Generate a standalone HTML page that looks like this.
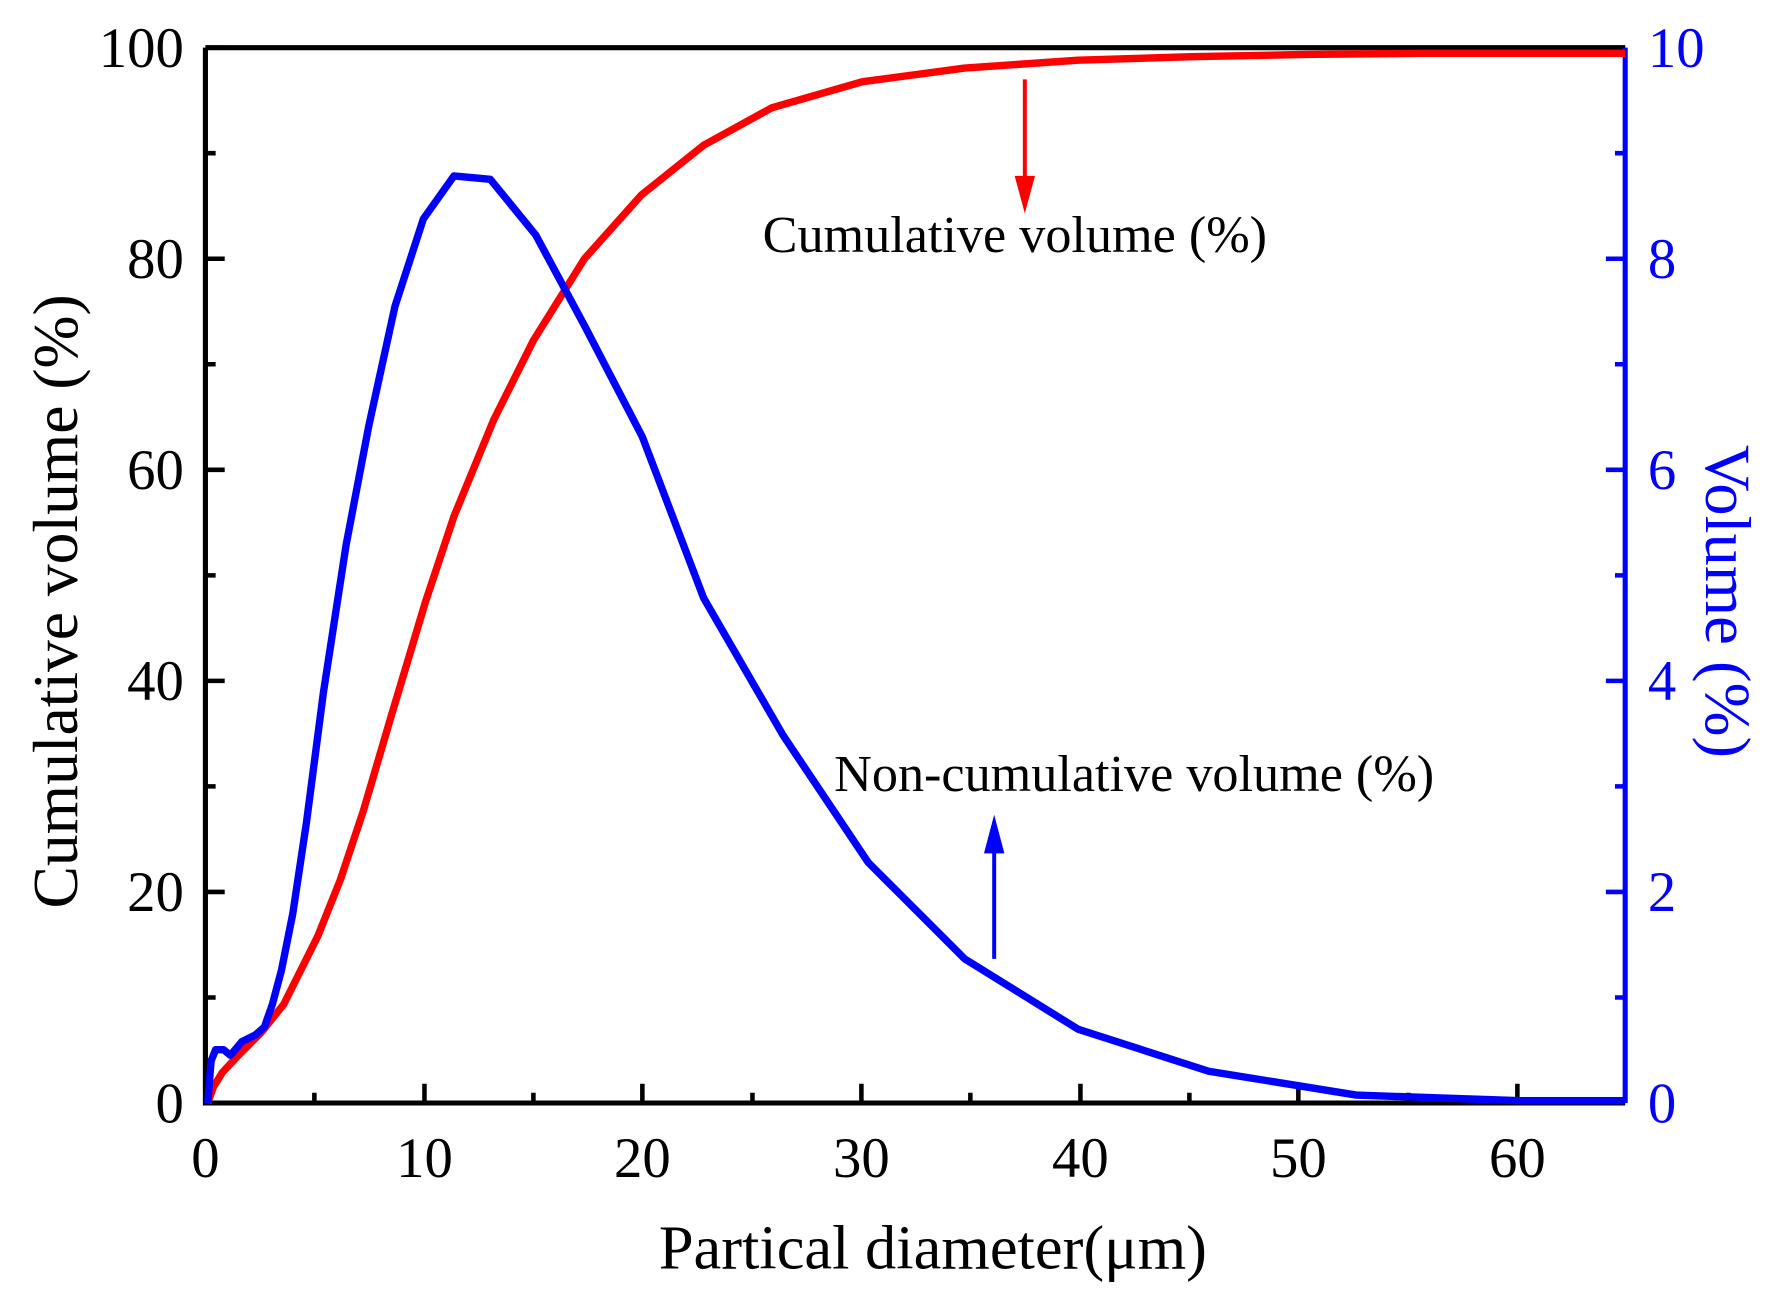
<!DOCTYPE html>
<html><head><meta charset="utf-8"><style>html,body{margin:0;padding:0;background:#fff}svg{display:block}</style></head>
<body>
<svg width="1775" height="1305" viewBox="0 0 1564 1150" preserveAspectRatio="none" xmlns="http://www.w3.org/2000/svg" font-family="Liberation Serif, serif">
<rect width="1564" height="1150" fill="#fff"/>
<g stroke="#000" stroke-width="4">
<path d="M181,972v-17M374,972v-17M566,972v-17M759,972v-17M952,972v-17M1144,972v-17M1337,972v-17"/>
<path d="M277,972v-9M470,972v-9M663,972v-9M855,972v-9M1048,972v-9M1241,972v-9"/>
<path d="M181,42h17M181,228h17M181,414h17M181,600h17M181,786h17"/>
<path d="M181,135h9M181,321h9M181,507h9M181,693h9M181,879h9"/>
</g>
<g stroke="#00f" stroke-width="4">
<path d="M1432,42h-17M1432,228h-17M1432,414h-17M1432,600h-17M1432,786h-17"/>
<path d="M1432,135h-9M1432,321h-9M1432,507h-9M1432,693h-9M1432,879h-9"/>
</g>
<path d="M181,42H1432M181,42V972H1432" stroke="#000" stroke-width="4.5" fill="none"/>
<path d="M1432,42V972" stroke="#00f" stroke-width="4.5"/>
<polyline fill="none" stroke="#f00" stroke-width="6.5" stroke-linejoin="round" points="183,972 188,958 196,945 210,930 230,910 250,885 265,855 280,825 300,775 320,715 345,630 375,530 400,455 435,370 470,300 515,228 565,172 620,128 680,95 760,72 850,60 950,53 1050,50 1150,48 1250,47 1432,47"/>
<polyline fill="none" stroke="#00f" stroke-width="6.5" stroke-linejoin="round" points="183,972 186,935 190,925 197,925 203,930 213,918 225,912 233,905 240,885 248,855 258,805 270,725 285,610 305,480 325,375 348,270 373,193 400,155 432,158 472,207 515,287 566,385 620,527 690,648 765,760 850,845 950,907 1065,944 1195,965 1340,970 1432,970"/>
<path d="M903,70V160" stroke="#f00" stroke-width="3.5"/>
<path d="M894,155L903,188L912,155Z" fill="#f00"/>
<path d="M876,845V745" stroke="#00f" stroke-width="3.5"/>
<path d="M867,752L876,718L885,752Z" fill="#00f"/>
<text x="672" y="222" font-size="46">Cumulative volume (%)</text>
<text x="735" y="697" font-size="46">Non-cumulative volume (%)</text>
<g font-size="50" text-anchor="middle">
<text x="181" y="1037">0</text><text x="374" y="1037">10</text><text x="566" y="1037">20</text><text x="759" y="1037">30</text><text x="952" y="1037">40</text><text x="1144" y="1037">50</text><text x="1337" y="1037">60</text>
</g>
<g font-size="50" text-anchor="end">
<text x="162" y="59">100</text><text x="162" y="245">80</text><text x="162" y="431">60</text><text x="162" y="617">40</text><text x="162" y="803">20</text><text x="162" y="989">0</text>
</g>
<g font-size="50" fill="#00f">
<text x="1452" y="59">10</text><text x="1452" y="245">8</text><text x="1452" y="431">6</text><text x="1452" y="617">4</text><text x="1452" y="803">2</text><text x="1452" y="989">0</text>
</g>
<text x="822" y="1118" font-size="55" text-anchor="middle">Partical diameter(μm)</text>
<text transform="translate(68,530) rotate(-90)" font-size="56" text-anchor="middle">Cumulative volume (%)</text>
<text transform="translate(1503,530) rotate(90)" font-size="57" text-anchor="middle" fill="#00f">Volume (%)</text>
</svg>
</body></html>
